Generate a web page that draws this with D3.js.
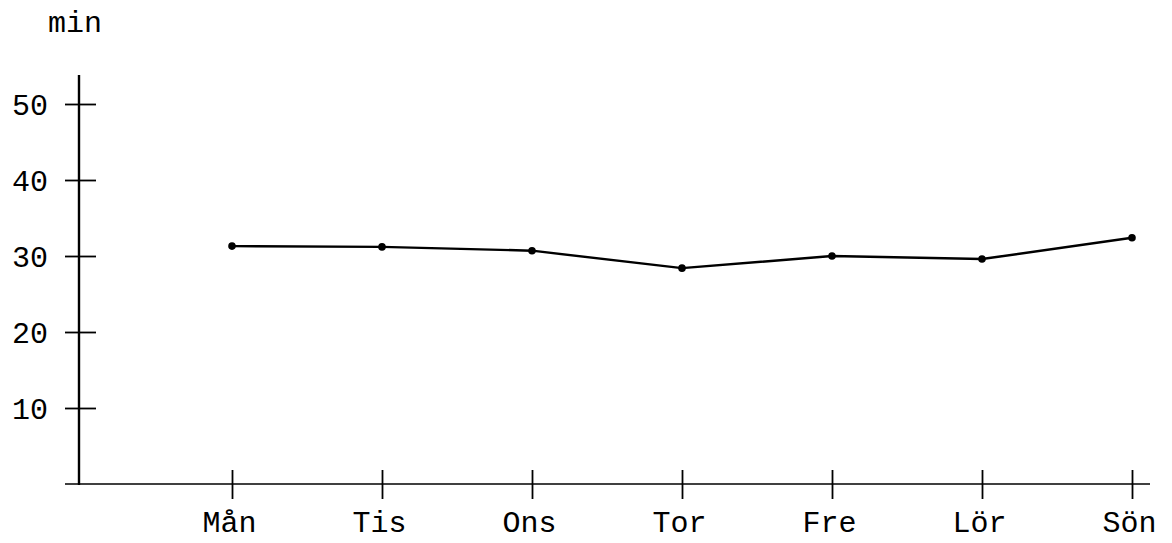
<!DOCTYPE html>
<html>
<head>
<meta charset="utf-8">
<script src="https://cdn.jsdelivr.net/npm/d3@7"></script>
<style>
  body { margin: 0; background: #fff; }
  text { font-family: "Courier New", "Liberation Mono", monospace; fill: #000; }
</style>
</head>
<body>
<div id="chart"></div>
<script>
var svgWidth = 1172;
var svgHeight = 543;

// Weekdays and average minutes
var days = ["Mån", "Tis", "Ons", "Tor", "Fre", "Lör", "Sön"];
var minutes = [31.3, 31.2, 30.7, 28.4, 30.0, 29.6, 32.4];
var yTicks = [10, 20, 30, 40, 50];
var yLabel = "min";

var svg = d3.select("#chart")
  .append("svg")
  .attr("width", svgWidth)
  .attr("height", svgHeight);

// Axis origin sits at x=79, y=484
var originX = 79;

var xScale = d3.scalePoint()
  .domain(days)
  .range([232, 1132]);

var yScale = d3.scaleLinear()
  .domain([0, 50])
  .range([484, 104]);

// y axis: line plus ticks crossing it
var yAxis = svg.append("g")
  .attr("transform", `translate(${originX}, 0)`)
  .call(d3.axisLeft(yScale).tickValues(yTicks).tickSizeOuter(0));

yAxis.select(".domain").remove();
yAxis.append("line")
  .attr("x1", 0).attr("x2", 0)
  .attr("y1", 75).attr("y2", yScale(0) + 1)
  .attr("stroke", "#000")
  .attr("stroke-width", 2.4);
yAxis.selectAll(".tick line")
  .attr("x1", -14)
  .attr("x2", 17)
  .attr("stroke-width", 1.8);
yAxis.selectAll(".tick text")
  .attr("x", -31)
  .style("font-size", "30px")
  .attr("dy", "0.36em");

// x axis
var xAxis = svg.append("g")
  .attr("transform", `translate(0, ${yScale(0)})`)
  .call(d3.axisBottom(xScale).tickSizeOuter(0));

xAxis.select(".domain").remove();
xAxis.append("line")
  .attr("x1", originX - 14).attr("x2", 1150)
  .attr("y1", 0).attr("y2", 0)
  .attr("stroke", "#000")
  .attr("stroke-width", 1.5);
xAxis.selectAll(".tick line")
  .attr("y1", -14)
  .attr("y2", 15)
  .attr("stroke-width", 1.8);
xAxis.selectAll(".tick text")
  .attr("y", 48)
  .attr("dy", 0)
  .attr("dx", -3)
  .style("font-size", "30px");

// unit label
svg.append("text")
  .attr("x", 48)
  .attr("y", 32)
  .style("font-size", "30px")
  .text(yLabel);

// data line and points
var createLine = d3.line()
  .x((d, i) => xScale(days[i]))
  .y(d => yScale(d));

svg.append("path")
  .attr("d", createLine(minutes))
  .attr("fill", "none")
  .attr("stroke", "#000")
  .attr("stroke-width", 2.4);

svg.selectAll("circle.pt")
  .data(minutes)
  .enter()
  .append("circle")
  .attr("class", "pt")
  .attr("cx", (d, i) => xScale(days[i]))
  .attr("cy", d => yScale(d))
  .attr("r", 3.8)
  .attr("fill", "#000");
</script>
</body>
</html>
